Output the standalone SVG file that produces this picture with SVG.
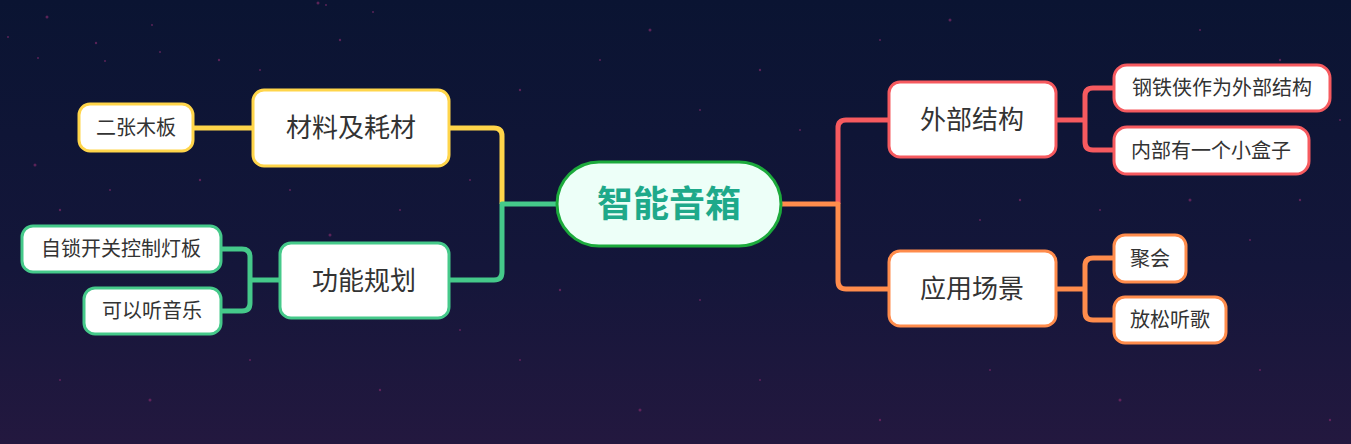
<svg xmlns="http://www.w3.org/2000/svg" width="1351" height="444" viewBox="0 0 1351 444">
<defs>
<linearGradient id="bg" x1="0" y1="0" x2="0" y2="1">
<stop offset="0" stop-color="#0a1432"/>
<stop offset="0.6" stop-color="#14163a"/>
<stop offset="1" stop-color="#23183f"/>
</linearGradient>
<style>
.box{fill:#ffffff;stroke-width:3}
.t1{font-family:"Noto Sans CJK SC","Noto Sans",sans-serif;font-size:26px;fill:#333333;text-anchor:middle}
.t2{font-family:"Noto Sans CJK SC","Noto Sans",sans-serif;font-size:20px;fill:#333333;text-anchor:middle}
.c{fill:none;stroke-width:5;stroke-linecap:butt;stroke-linejoin:round}
.star{fill:#7a2a66;opacity:0.7}
</style>
</defs>
<rect width="1351" height="444" fill="url(#bg)"/>
<g id="stars">
<circle class="star" cx="47" cy="17" r="1.5"/><circle class="star" cx="96" cy="43" r="1.2"/>
<circle class="star" cx="152" cy="25" r="1"/><circle class="star" cx="219" cy="60" r="1.2"/>
<circle class="star" cx="160" cy="52" r="1"/><circle class="star" cx="260" cy="70" r="1"/>
<circle class="star" cx="318" cy="3" r="1.5"/><circle class="star" cx="340" cy="40" r="1.2"/>
<circle class="star" cx="373" cy="12" r="1"/><circle class="star" cx="8" cy="37" r="1"/>
<circle class="star" cx="38" cy="58" r="1"/><circle class="star" cx="105" cy="61" r="1"/>
<circle class="star" cx="326" cy="5" r="1"/><circle class="star" cx="60" cy="210" r="1.2"/>
<circle class="star" cx="35" cy="165" r="1.5"/><circle class="star" cx="110" cy="190" r="1"/>
<circle class="star" cx="200" cy="180" r="1.2"/><circle class="star" cx="290" cy="190" r="1"/>
<circle class="star" cx="330" cy="235" r="1.5"/><circle class="star" cx="400" cy="210" r="1"/>
<circle class="star" cx="470" cy="180" r="1"/><circle class="star" cx="520" cy="90" r="1.2"/>
<circle class="star" cx="600" cy="60" r="1"/><circle class="star" cx="650" cy="30" r="1.5"/>
<circle class="star" cx="700" cy="110" r="1"/><circle class="star" cx="760" cy="70" r="1.2"/>
<circle class="star" cx="800" cy="130" r="1"/><circle class="star" cx="880" cy="40" r="1"/>
<circle class="star" cx="950" cy="20" r="1.5"/><circle class="star" cx="1020" cy="200" r="1.2"/>
<circle class="star" cx="980" cy="220" r="1"/><circle class="star" cx="1100" cy="210" r="1"/>
<circle class="star" cx="1190" cy="200" r="1.5"/><circle class="star" cx="1250" cy="240" r="1"/>
<circle class="star" cx="1300" cy="200" r="1.2"/><circle class="star" cx="1340" cy="120" r="1"/>
<circle class="star" cx="1200" cy="30" r="1"/><circle class="star" cx="1280" cy="60" r="1.2"/>
<circle class="star" cx="60" cy="380" r="1"/><circle class="star" cx="150" cy="400" r="1.5"/>
<circle class="star" cx="250" cy="360" r="1"/><circle class="star" cx="380" cy="390" r="1.2"/>
<circle class="star" cx="520" cy="360" r="1"/><circle class="star" cx="640" cy="410" r="1.5"/>
<circle class="star" cx="760" cy="380" r="1"/><circle class="star" cx="880" cy="420" r="1.2"/>
<circle class="star" cx="990" cy="370" r="1"/><circle class="star" cx="1120" cy="400" r="1.5"/>
<circle class="star" cx="1260" cy="370" r="1"/><circle class="star" cx="1330" cy="420" r="1.2"/>
<circle class="star" cx="700" cy="300" r="1"/><circle class="star" cx="560" cy="290" r="1.2"/>
<circle class="star" cx="460" cy="330" r="1"/><circle class="star" cx="950" cy="300" r="1"/>
</g>
<g id="connectors">
<path class="c" stroke="#ffd54a" d="M450,128 H494 Q502,128 502,136 V204"/>
<path class="c" stroke="#45c98a" d="M556,204 H502 V272 Q502,280 494,280 H450"/>
<path class="c" stroke="#f65a5f" d="M838,204 V128 Q838,120 846,120 H888"/>
<path class="c" stroke="#ff8c4c" d="M782,204 H838 V281 Q838,289 846,289 H888"/>
<path class="c" stroke="#ffd54a" d="M252,128 H193"/>
<path class="c" stroke="#45c98a" d="M279,280 H250 M221,249 H242 Q250,249 250,257 V303 Q250,311 242,311 H221"/>
<path class="c" stroke="#f65a5f" d="M1056,120 H1085 M1113,88 H1093 Q1085,88 1085,96 V142 Q1085,150 1093,150 H1113"/>
<path class="c" stroke="#ff8c4c" d="M1056,289 H1085 M1113,258 H1093 Q1085,258 1085,266 V312 Q1085,320 1093,320 H1113"/>
</g>
<g id="root">
<rect x="557" y="162" width="224" height="84" rx="42" fill="#edfff8" stroke="#1caa3c" stroke-width="3"/>
<text x="669" y="217" font-family="'Noto Sans CJK SC',sans-serif" font-size="36" font-weight="bold" fill="#1ea98a" text-anchor="middle">智能音箱</text>
</g>
<g id="n-cailiao">
<rect class="box" x="253" y="90" width="196" height="76" rx="11" stroke="#ffd54a"/>
<text class="t1" x="351" y="137">材料及耗材</text>
</g>
<g id="n-erzhang">
<rect class="box" x="79" y="104" width="114" height="47" rx="11" stroke="#ffd54a"/>
<text class="t2" x="136" y="135">二张木板</text>
</g>
<g id="n-gongneng">
<rect class="box" x="280" y="243" width="169" height="75" rx="11" stroke="#45c98a"/>
<text class="t1" x="364" y="290">功能规划</text>
</g>
<g id="n-zisuo">
<rect class="box" x="22" y="226" width="199" height="46" rx="11" stroke="#45c98a"/>
<text class="t2" x="121" y="256">自锁开关控制灯板</text>
</g>
<g id="n-keyi">
<rect class="box" x="84" y="288" width="137" height="46" rx="11" stroke="#45c98a"/>
<text class="t2" x="152" y="318">可以听音乐</text>
</g>
<g id="n-waibu">
<rect class="box" x="889" y="82" width="167" height="75" rx="11" stroke="#f65a5f"/>
<text class="t1" x="972" y="129">外部结构</text>
</g>
<g id="n-gangtie">
<rect class="box" x="1114" y="65" width="216" height="46" rx="13" stroke="#f65a5f"/>
<text class="t2" x="1222" y="95">钢铁侠作为外部结构</text>
</g>
<g id="n-neibu">
<rect class="box" x="1114" y="127" width="195" height="47" rx="13" stroke="#f65a5f"/>
<text class="t2" x="1211" y="158">内部有一个小盒子</text>
</g>
<g id="n-yingyong">
<rect class="box" x="889" y="251" width="167" height="75" rx="11" stroke="#ff8c4c"/>
<text class="t1" x="972" y="298">应用场景</text>
</g>
<g id="n-juhui">
<rect class="box" x="1114" y="235" width="72" height="47" rx="11" stroke="#ff8c4c"/>
<text class="t2" x="1150" y="266">聚会</text>
</g>
<g id="n-fangsong">
<rect class="box" x="1114" y="297" width="112" height="46" rx="11" stroke="#ff8c4c"/>
<text class="t2" x="1170" y="327">放松听歌</text>
</g>
</svg>
